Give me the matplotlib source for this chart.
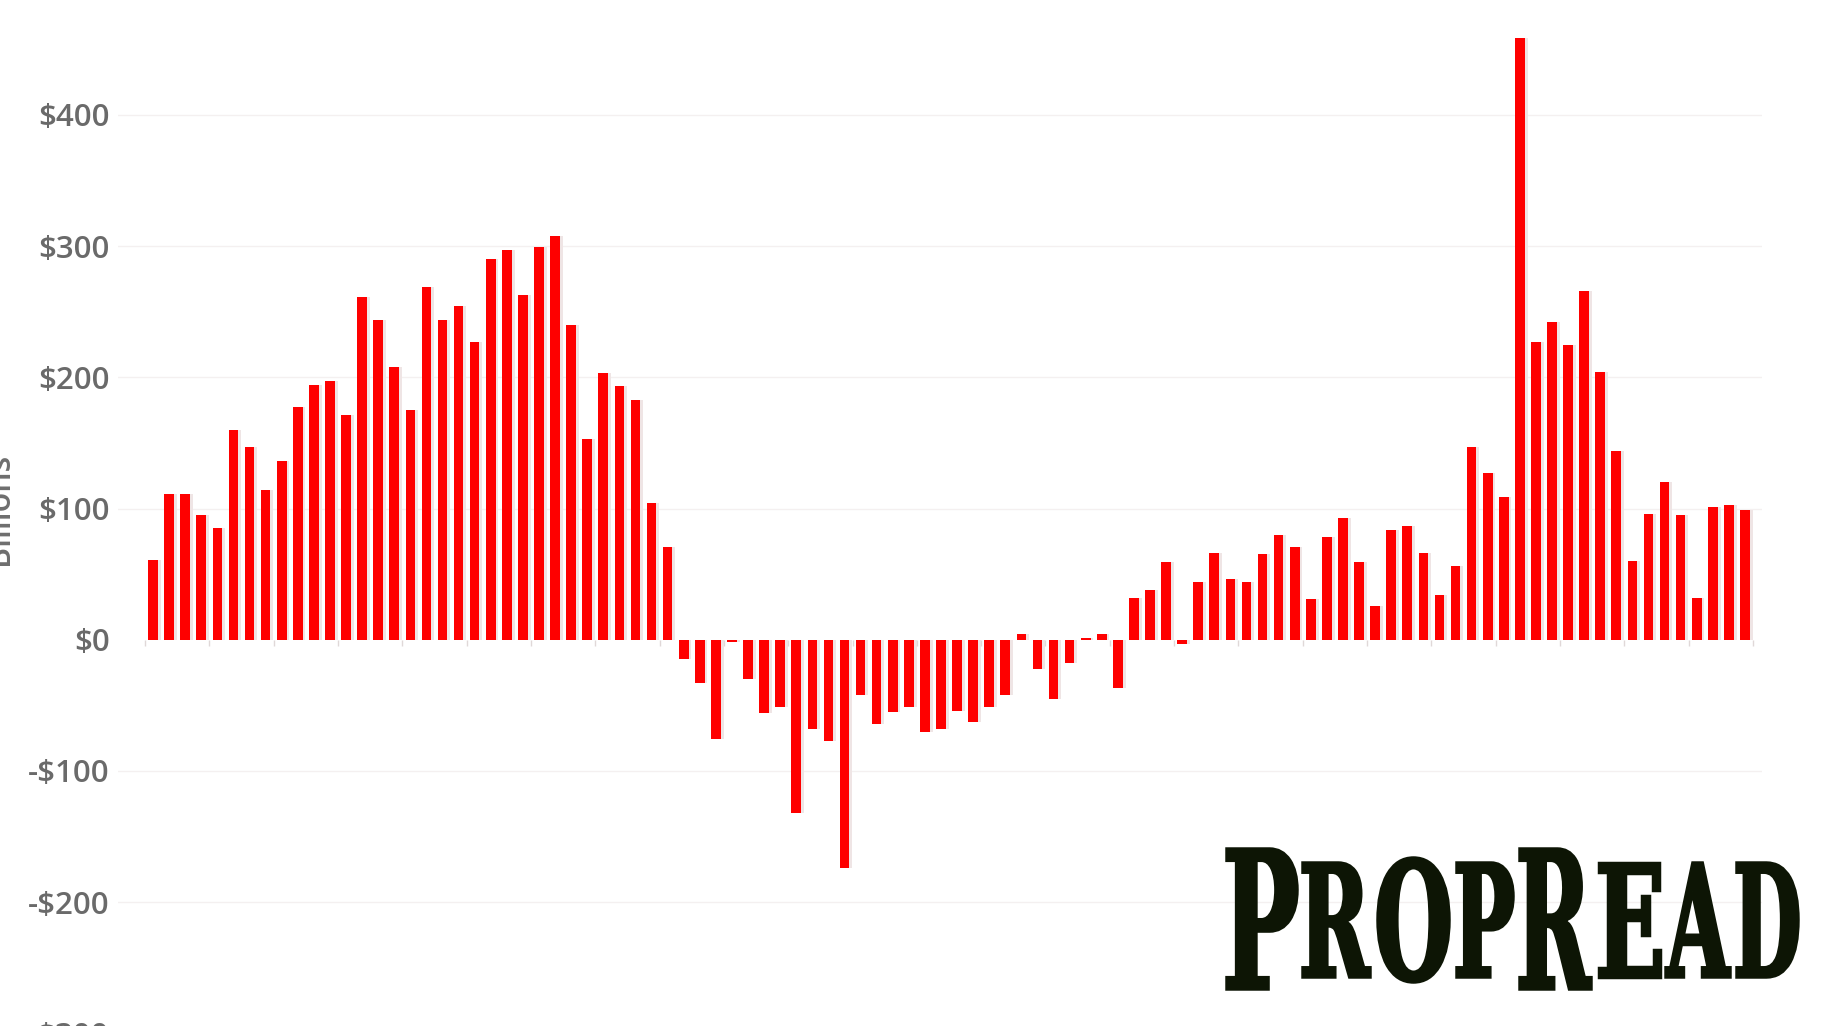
import numpy as np
import matplotlib
matplotlib.use("Agg")
import matplotlib.pyplot as plt
from matplotlib.textpath import TextPath
from matplotlib.patches import PathPatch
from matplotlib.font_manager import FontProperties
from matplotlib.transforms import Affine2D

# quarterly values in billions of dollars
first_rise = [61, 111, 111, 95, 85, 160, 147, 114, 136, 177, 194, 197, 171,
              261, 244, 208, 175, 269, 244, 254, 227, 290, 297, 263, 299, 308,
              240, 153, 203, 193, 183, 104, 71]
dip = [-15, -33, -76, -2, -30, -56, -51, -132, -68, -77, -174, -42, -64, -55,
       -51, -70, -68, -54, -63, -51, -42, 4, -22, -45, -18, 1, 4, -37]
recovery = [32, 38, 59, -3, 44, 66, 46, 44, 65, 80, 71, 31, 78, 93, 59, 26,
            84, 87, 66, 34, 56, 147, 127, 109, 459, 227, 242, 225, 266, 204,
            144, 60, 96, 120, 95, 32, 101, 103, 99]
y_ticks = [-300, -200, -100, 0, 100, 200, 300, 400]

values = np.array(first_rise + dip + recovery)
x = np.arange(len(values))

W, H = 1824, 1026
plt.rcParams['font.family'] = ['Open Sans', 'DejaVu Sans']
fig = plt.figure(figsize=(W / 100, H / 100), dpi=100)
fig.patch.set_facecolor('white')

# the picture is a crop: the plot runs past the bottom edge
ax = fig.add_axes([118 / W, -0.1094, (1762 - 118) / W, 1.1094])
ax.set_xlim(-2.18, 100.06)
ax.set_ylim(-380, 487.6)

# very faint gridlines
for v in [-300, -200, -100, 100, 200, 300, 400]:
    ax.axhline(v, color='#f4f0f0', lw=1.0, zorder=0)

# soft shadow to the right of each bar, then the bars
ax.bar(x + 0.18, values, width=0.6, color='#efe5e5', zorder=1)
ax.bar(x, values, width=0.6, color='#fe0000', zorder=2)

# small year ticks under the zero line
years = np.arange(-0.5, len(values), 4)
ax.vlines(years, -5, 0, color='#e0d8d8', lw=1.0, zorder=1)

ax.set_yticks(y_ticks)
ax.set_yticklabels([('-' if v < 0 else '') + '$' + str(abs(v)) for v in y_ticks])
ax.tick_params(axis='y', length=0, pad=6, labelsize=22.5, labelcolor='#6a6a6a')
for t in ax.get_yticklabels():
    t.set_fontweight('semibold')
ax.set_xticks([])
for s in ax.spines.values():
    s.set_visible(False)

fig.text(0.0, 1 - 509 / H, 'Billions', rotation=90, ha='center', va='center',
         fontsize=23, color='#6e6e6e', fontweight='semibold')


def stamp(ch, x0, y0, x1, y1):
    # draw one letter stretched into a box given in pixels from the top left
    fp = FontProperties(family='DejaVu Serif', weight='bold')
    path = TextPath((0, 0), ch, size=100, prop=fp)
    bb = path.get_extents()
    tr = (Affine2D().translate(-bb.x0, -bb.y0)
          .scale((x1 - x0) / bb.width, (y1 - y0) / bb.height)
          .translate(x0, H - y1).scale(1 / W, 1 / H))
    fig.add_artist(PathPatch(tr.transform_path(path), transform=fig.transFigure,
                             fc='#0d1505', ec='#0d1505', lw=2.5,
                             joinstyle='miter'))


stamp('P', 1227, 849, 1297, 989)
stamp('R', 1303, 863, 1370, 977)
stamp('O', 1378, 858, 1449, 982)
stamp('P', 1457, 863, 1513, 977)
stamp('R', 1520, 849, 1591, 989)
stamp('E', 1599, 863, 1660, 977)
stamp('A', 1666, 863, 1730, 977)
stamp('D', 1737, 863, 1798, 977)

fig.savefig('out.png', dpi=100)
